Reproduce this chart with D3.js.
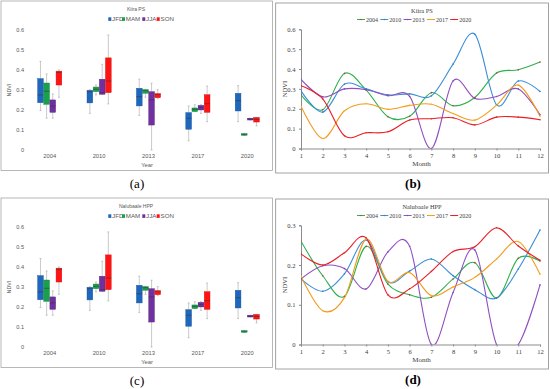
<!DOCTYPE html>
<html>
<head>
<meta charset="utf-8">
<script src="https://cdn.jsdelivr.net/npm/d3@7"></script>
<style>
  body { margin: 0; background: #fff; }
  svg { display: block; }
  .sans { font-family: "Liberation Sans", Arial, sans-serif; fill: #595959; }
  .serif { font-family: "Liberation Serif", "Times New Roman", serif; fill: #404040; }
</style>
</head>
<body>
<svg id="fig" width="550" height="389"></svg>
<script>
// box plot data: [min, q1, median, q3, max] per year, one array per season
// (panels a and c show the same values)
const years = ["2004", "2010", "2013", "2017", "2020"];
const seasons = ["JFD", "MAM", "JJA", "SON"];
const boxJFD = [[0.196, 0.235, 0.274, 0.355, 0.44], [0.182, 0.234, 0.29, 0.297, 0.30], [0.172, 0.219, 0.265, 0.307, 0.352], [0.046, 0.103, 0.158, 0.186, 0.219], [0.141, 0.194, 0.245, 0.282, 0.32]];
const boxMAM = [[0.158, 0.227, 0.292, 0.333, 0.378], [0.274, 0.29, 0.302, 0.313, 0.323], [0.262, 0.282, 0.295, 0.30, 0.302], [0.191, 0.191, 0.202, 0.209, 0.225], [0.072, 0.073, 0.078, 0.081, 0.083]];
const boxJJA = [[0.158, 0.187, 0.219, 0.249, 0.279], [0.277, 0.277, 0.285, 0.352, 0.426], [0.0, 0.124, 0.249, 0.29, 0.332], [0.182, 0.199, 0.212, 0.222, 0.225], [0.149, 0.149, 0.154, 0.158, 0.158]];
const boxSON = [[0.262, 0.323, 0.386, 0.392, 0.398], [0.229, 0.285, 0.343, 0.458, 0.572], [0.255, 0.26, 0.277, 0.28, 0.30], [0.141, 0.187, 0.23, 0.275, 0.318], [0.12, 0.139, 0.152, 0.162, 0.162]];
const boxColors = ["#1f67bd", "#18a04c", "#7030a0", "#ff1414"];

// monthly NDVI lines
const months = [1, 2, 3, 4, 5, 6, 7, 8, 9, 10, 11, 12];
const lineYears = ["2004", "2010", "2013", "2017", "2020"];
const kiira2004 = [0.27, 0.195, 0.378, 0.294, 0.16, 0.162, 0.281, 0.215, 0.257, 0.38, 0.396, 0.435];
const kiira2010 = [0.29, 0.183, 0.324, 0.30, 0.27, 0.275, 0.265, 0.425, 0.575, 0.22, 0.34, 0.287];
const kiira2013 = [0.348, 0.26, 0.30, 0.296, 0.266, 0.262, 0.0, 0.34, 0.252, 0.262, 0.30, 0.17];
const kiira2017 = [0.213, 0.05, 0.19, 0.225, 0.197, 0.217, 0.223, 0.176, 0.143, 0.218, 0.319, 0.162];
const kiira2020 = [0.316, 0.25, 0.064, 0.079, 0.084, 0.143, 0.15, 0.155, 0.119, 0.158, 0.158, 0.145];
const nalu2004 = [0.26, 0.173, 0.121, 0.247, 0.152, 0.125, 0.119, 0.165, 0.206, 0.117, 0.217, 0.21];
const nalu2010 = [0.165, 0.134, 0.178, 0.263, 0.158, 0.185, 0.215, 0.173, 0.138, 0.117, 0.19, 0.288];
const nalu2013 = [0.165, 0.198, 0.191, 0.14, 0.233, 0.247, 0.0, 0.131, 0.238, 0.0, 0.0, 0.15];
const nalu2017 = [0.172, 0.085, 0.118, 0.265, 0.159, 0.181, 0.123, 0.145, 0.169, 0.215, 0.259, 0.177];
const nalu2020 = [0.228, 0.2, 0.231, 0.268, 0.125, 0.14, 0.184, 0.234, 0.246, 0.294, 0.248, 0.212];
const lineColors = ["#2bb24c", "#3b8fd8", "#9150c0", "#f39a1e", "#ec1c24"];
const markColors = ["#c43b2e", "#2f7fc8", "#8a48b8", "#f5b800", "#c43b2e"];

const svg = d3.select("#fig");

function boxPanel(dy, title, caption) {
  const g = svg.append("g").attr("transform", `translate(0,${dy})`);
  g.append("rect").attr("x", 1).attr("y", 1).attr("width", 271.5).attr("height", 169.5)
    .attr("fill", "none").attr("stroke", "#a6a6a6").attr("stroke-width", 0.8);

  const y = d3.scaleLinear().domain([0, 0.6]).range([150, 29.3]);
  const x = d3.scaleBand().domain(years).range([25, 272]);
  const xs = d3.scaleBand().domain(seasons).range([-12.3, 12.3]);

  g.append("g").attr("transform", "translate(24,0)")
    .call(d3.axisLeft(y).tickValues([0, 0.1, 0.2, 0.3, 0.4, 0.5, 0.6]).tickFormat(d => d === 0 ? "0" : d3.format(".1f")(d)).tickSize(0).tickPadding(0))
    .call(a => a.select(".domain").remove())
    .selectAll("text").attr("class", "sans").attr("font-size", 5.6);

  g.append("g").attr("transform", "translate(0,152)")
    .call(d3.axisBottom(x).tickSize(0).tickPadding(1.5))
    .call(a => a.select(".domain").remove())
    .selectAll("text").attr("class", "sans").attr("font-size", 5.8);

  g.append("text").attr("class", "sans").attr("x", 147).attr("y", 166.5).attr("text-anchor", "middle")
    .attr("font-size", 5.8).text("Year");
  g.append("text").attr("class", "sans").attr("transform", "translate(10.5,90) rotate(-90)")
    .attr("text-anchor", "middle").attr("font-size", 5.4).text("NDVI");
  g.append("text").attr("class", "sans").attr("x", 136).attr("y", 11).attr("text-anchor", "middle")
    .attr("font-size", 5).text(title);

  const legX = [108.3, 122, 142.3, 156.7];
  seasons.forEach((s, i) => {
    g.append("rect").attr("x", legX[i]).attr("y", 17.3).attr("width", 3).attr("height", 3.6).attr("fill", boxColors[i]);
    g.append("text").attr("class", "sans").attr("x", legX[i] + 3.8).attr("y", 21).attr("font-size", 6.2)
      .attr("fill", "#404040").text(s);
  });

  [boxJFD, boxMAM, boxJJA, boxSON].forEach((ser, si) => {
    years.forEach((yr, yi) => {
      const [mn, q1, md, q3, mx] = ser[yi];
      const cx = x(yr) + x.bandwidth() / 2 + xs(seasons[si]);
      const w = xs.bandwidth();
      const mid = cx + w / 2;
      const wg = g.append("g");
      wg.append("line").attr("x1", mid).attr("x2", mid).attr("y1", y(mx)).attr("y2", y(q3)).attr("stroke", "#a6a6a6").attr("stroke-width", 0.6);
      wg.append("line").attr("x1", mid).attr("x2", mid).attr("y1", y(q1)).attr("y2", y(mn)).attr("stroke", "#a6a6a6").attr("stroke-width", 0.6);
      [mn, mx].forEach(v => wg.append("line").attr("x1", mid - 1).attr("x2", mid + 1).attr("y1", y(v)).attr("y2", y(v)).attr("stroke", "#a6a6a6").attr("stroke-width", 0.6));
      wg.append("rect").attr("x", cx + 0.2).attr("width", w - 0.4).attr("y", y(q3)).attr("height", Math.max(1, y(q1) - y(q3)))
        .attr("fill", boxColors[si]).attr("stroke", d3.color(boxColors[si]).darker(0.6)).attr("stroke-width", 0.4);
      wg.append("line").attr("x1", cx + 0.2).attr("x2", cx + w - 0.2).attr("y1", y(md)).attr("y2", y(md)).attr("stroke", "#333").attr("stroke-width", 0.5);
    });
  });

  svg.append("text").attr("x", 137).attr("y", dy + 187.5).attr("text-anchor", "middle")
    .style("font-family", "'Liberation Serif', serif").attr("font-size", 13).attr("fill", "#000").text(caption);
}

function linePanel(dy, title, yMax, series, caption, id) {
  const g = svg.append("g").attr("transform", `translate(0,${dy})`);
  g.append("rect").attr("x", 275.7).attr("y", 3).attr("width", 272.8).attr("height", 170)
    .attr("fill", "none").attr("stroke", "#8c8c8c").attr("stroke-width", 0.8);

  const x = d3.scaleLinear().domain([1, 12]).range([301, 540]);
  const y = d3.scaleLinear().domain([0, yMax]).range([148.5, 29.3]);
  const ticks = d3.range(0, yMax + 0.001, 0.1).map(v => +v.toFixed(1));

  g.append("g").attr("transform", "translate(301,0)")
    .call(d3.axisLeft(y).tickValues(ticks).tickFormat(d => d === 0 ? "0" : d3.format(".1f")(d)).tickSize(2).tickPadding(3.5))
    .call(a => a.select(".domain").attr("stroke", "#8c8c8c"))
    .call(a => a.selectAll("line").attr("stroke", "#8c8c8c"))
    .selectAll("text").attr("class", "serif").attr("font-size", 6.6);

  g.append("g").attr("transform", "translate(0,148.5)")
    .call(d3.axisBottom(x).tickValues(months).tickFormat(d3.format("d")).tickSize(2).tickPadding(2.5))
    .call(a => a.select(".domain").attr("stroke", "#8c8c8c"))
    .call(a => a.selectAll("line").attr("stroke", "#8c8c8c"))
    .selectAll("text").attr("class", "serif").attr("font-size", 6.6);

  g.append("text").attr("class", "serif").attr("x", 421.5).attr("y", 165.5).attr("text-anchor", "middle")
    .attr("font-size", 7).text("Month");
  g.append("text").attr("class", "serif").attr("transform", "translate(286.5,89) rotate(-90)")
    .attr("text-anchor", "middle").attr("font-size", 6.6).text("NDVI");
  g.append("text").attr("class", "serif").attr("x", 422).attr("y", 12.5).attr("text-anchor", "middle")
    .attr("font-size", 6.4).text(title);

  lineYears.forEach((yr, i) => {
    const lx = 357 + 23.3 * i;
    g.append("line").attr("x1", lx).attr("x2", lx + 8).attr("y1", 19.5).attr("y2", 19.5).attr("stroke", lineColors[i]).attr("stroke-width", 1);
    g.append("circle").attr("cx", lx + 4).attr("cy", 19.5).attr("r", 0.7).attr("fill", markColors[i]);
    g.append("text").attr("class", "serif").attr("x", lx + 9).attr("y", 21.6).attr("font-size", 6).text(yr);
  });

  g.append("clipPath").attr("id", id).append("rect")
    .attr("x", 301).attr("y", 25).attr("width", 242).attr("height", 148.5 - 25);

  const line = d3.line().x((d, i) => x(months[i])).y(d => y(d)).curve(d3.curveCatmullRom.alpha(0));
  const plot = g.append("g").attr("clip-path", `url(#${id})`);
  series.forEach((s, i) => {
    plot.append("path").attr("d", line(s)).attr("fill", "none").attr("stroke", lineColors[i]).attr("stroke-width", 1.1);
  });
  series.forEach((s, i) => {
    plot.selectAll(null).data(s).join("circle")
      .attr("cx", (d, j) => x(months[j])).attr("cy", d => y(d)).attr("r", 0.8).attr("fill", markColors[i]);
  });

  svg.append("text").attr("x", 413).attr("y", dy + 187.5).attr("text-anchor", "middle")
    .style("font-family", "'Liberation Serif', serif").attr("font-size", 13).attr("font-weight", "bold").attr("fill", "#000").text(caption);
}

boxPanel(0, "Kiira PS", "(a)");
boxPanel(197, "Nalubaale HPP", "(c)");
linePanel(0, "Kiira PS", 0.6, [kiira2004, kiira2010, kiira2013, kiira2017, kiira2020], "(b)", "clipB");
linePanel(196, "Nalubaale HPP", 0.3, [nalu2004, nalu2010, nalu2013, nalu2017, nalu2020], "(d)", "clipD");
</script>
</body>
</html>
